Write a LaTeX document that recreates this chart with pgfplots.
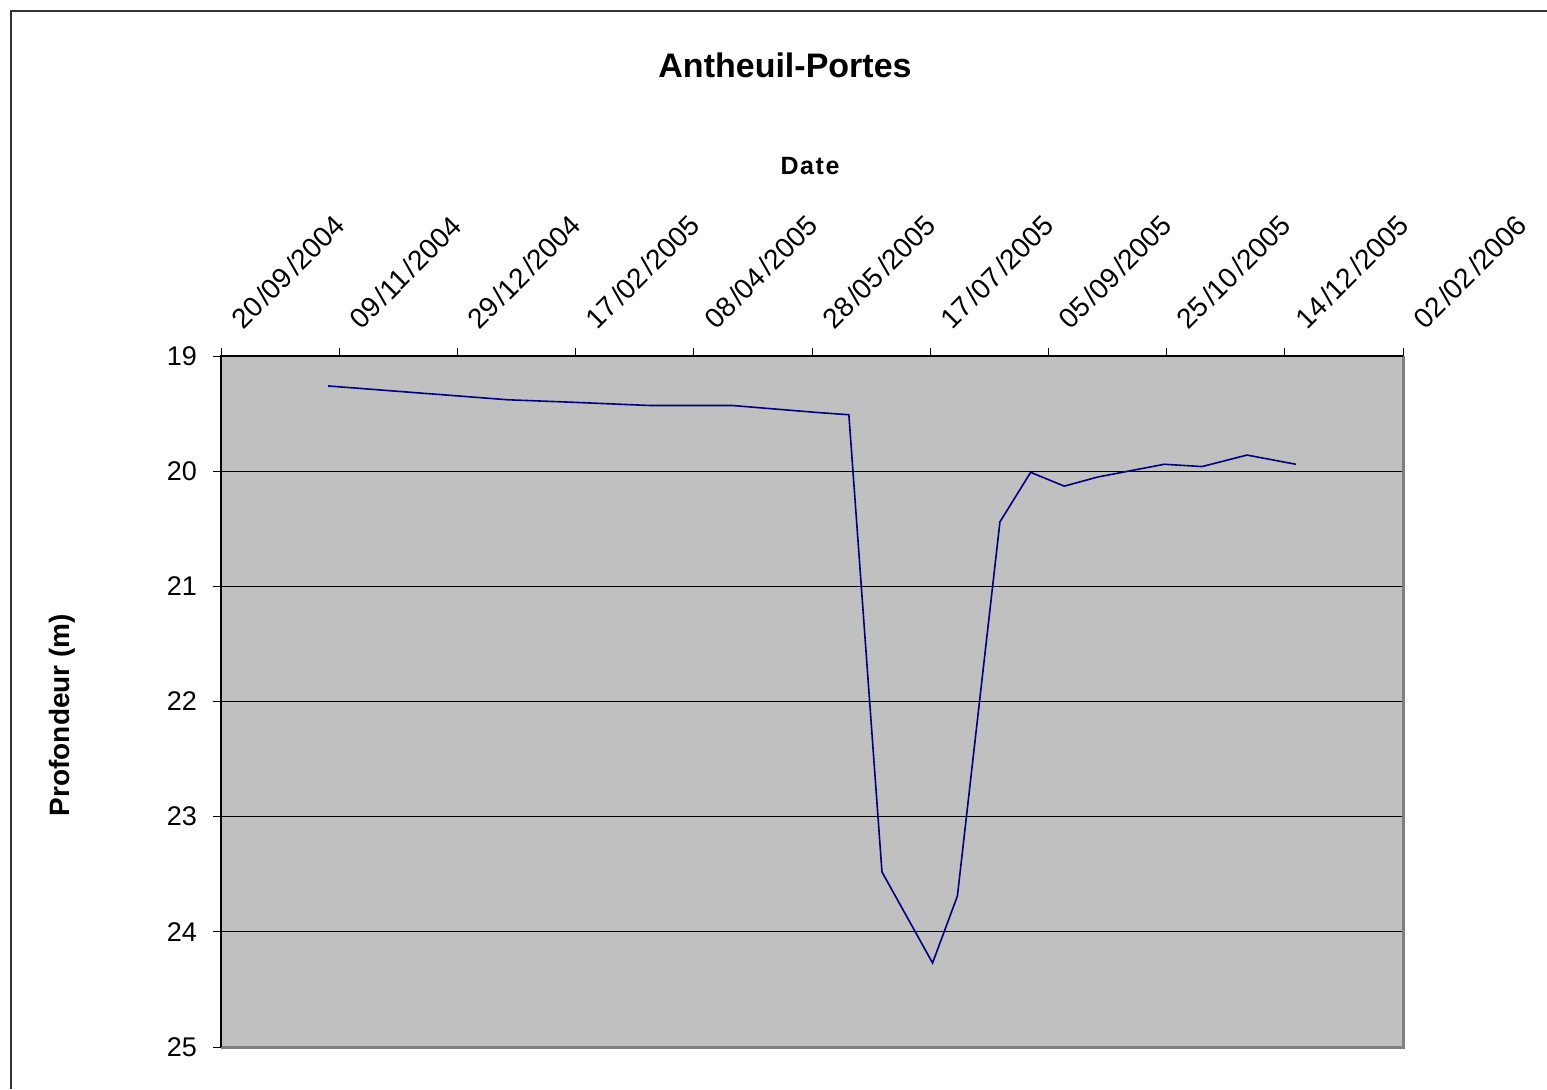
\documentclass[border=0pt]{standalone}
\usepackage{pgfplots}
\pgfplotsset{compat=1.18}
\usepackage{fontspec}
\setmainfont{Liberation Sans}
\definecolor{bggray}{RGB}{192,192,192}
\definecolor{framegray}{RGB}{128,128,128}
\definecolor{navyline}{RGB}{0,0,128}
\newcommand{\dt}[3]{#1\kern1.5pt/#2\kern1.5pt/#3}
\begin{document}
\begin{tikzpicture}
\useasboundingbox (0,0) rectangle (773.5pt,544.5pt);
\draw[line width=1pt, black!80] (5.5pt,0) -- (5.5pt,539pt) -- (773.5pt,539pt);
\node[font=\fontsize{17}{20}\selectfont\bfseries] at (392.5pt,512pt) {Antheuil-Portes};
\node[font=\fontsize{12.5}{15}\selectfont\bfseries] at (405pt,461.5pt) {D\kern0.8pt a\kern0.8pt t\kern0.8pt e};
\node[font=\fontsize{14}{16}\selectfont\bfseries, rotate=90] at (31pt,187pt) {Profondeur (m)};
\begin{axis}[
  at={(110.5pt,21pt)}, anchor=south west,
  scale only axis, width=591pt, height=345.5pt,
  xmin=0, xmax=500, ymin=19, ymax=25,
  y dir=reverse,
  axis background/.style={fill=bggray},
  axis line style={draw=none},
  xtick={0,50,...,500},
  xticklabels={\dt{20}{09}{2004},\dt{09}{11}{2004},\dt{29}{12}{2004},\dt{17}{02}{2005},\dt{08}{04}{2005},\dt{28}{05}{2005},\dt{17}{07}{2005},\dt{05}{09}{2005},\dt{25}{10}{2005},\dt{14}{12}{2005},\dt{02}{02}{2006}},
  xticklabel pos=upper, xtick pos=upper,
  ytick={19,20,...,25}, ytick pos=left,
  tick align=outside, major tick length=4pt,
  tick style={black, line width=0.5pt},
  ymajorgrids, grid style={black, line width=0.6pt},
  ticklabel style={font=\fontsize{13.5}{16}\selectfont},
  yticklabel style={xshift=-4.5pt},
  /pgf/number format/assume math mode=true,
  xticklabel style={inner sep=0pt, anchor=base west, font=\fontsize{14}{16}\selectfont, xshift=11pt, yshift=8.5pt, rotate=45},
  clip=false,
]
\addplot[navyline, line width=0.8pt] coordinates {
(45.3,19.26) (121.4,19.38) (146.8,19.40) (181.9,19.43) (216.6,19.43)
(252.0,19.49) (265.6,19.51) (279.6,23.48) (301.0,24.27) (311.5,23.69)
(329.5,20.44) (342.5,20.01) (356.7,20.13) (371.0,20.05) (399.0,19.94)
(415.0,19.96) (434.0,19.86) (454.7,19.94)
};
\draw[framegray, line width=1.5pt] (axis cs:500,19) -- (axis cs:500,25) -- (axis cs:0,25);
\draw[black, line width=0.6pt] (axis cs:0,25) -- (axis cs:0,19) -- (axis cs:500,19);
\end{axis}
\end{tikzpicture}
\end{document}
